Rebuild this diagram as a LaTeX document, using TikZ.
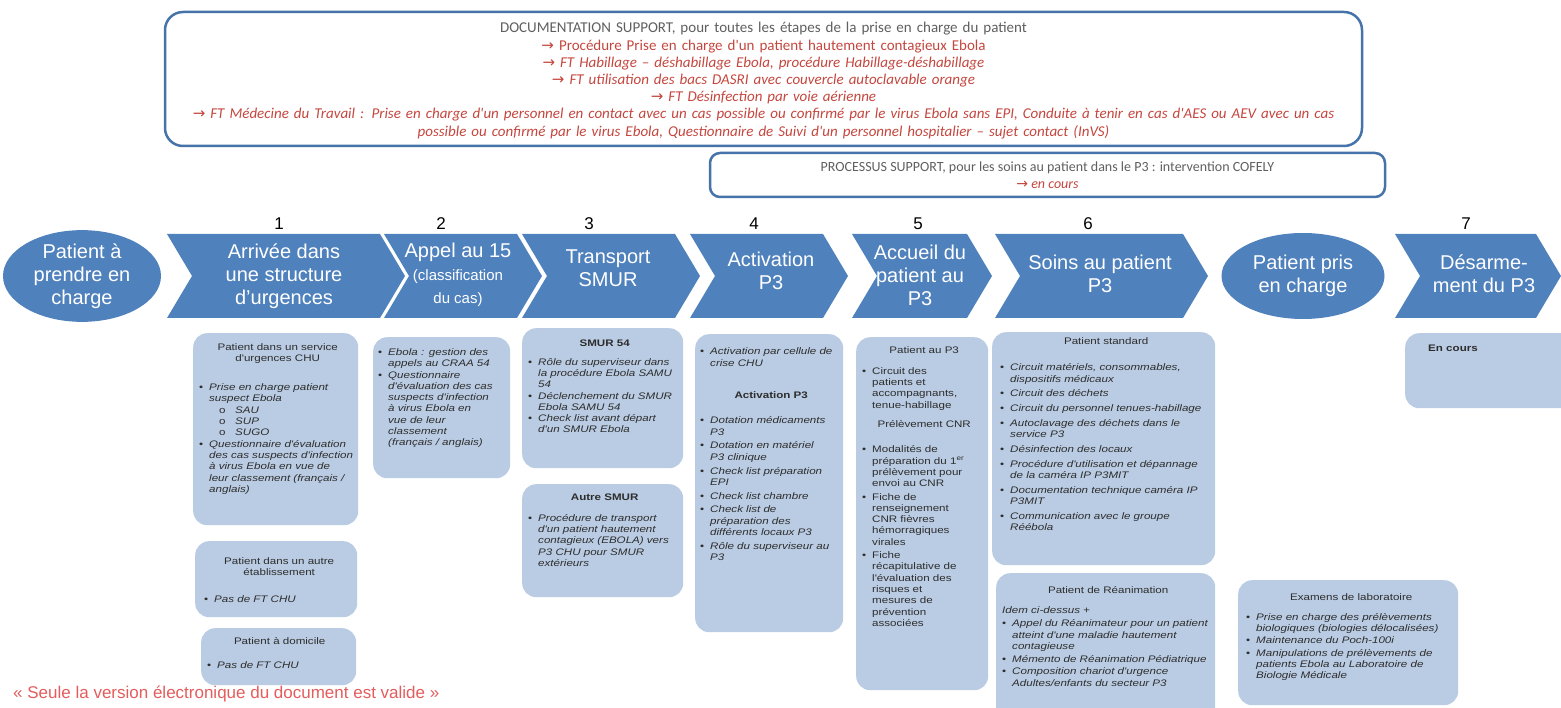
\documentclass[tikz,border=0pt]{standalone}
\usepackage{fontspec}
\setmainfont{Liberation Sans}
\newfontfamily\calib{Carlito}
\newfontfamily\boxf[FakeStretch=1.22]{Liberation Sans}
\newfontfamily\symf{DejaVu Sans}
\usetikzlibrary{shapes.geometric}
\definecolor{docblue}{RGB}{70,115,170}
\definecolor{chevblue}{RGB}{79,129,189}
\definecolor{boxfill}{RGB}{186,204,227}
\definecolor{greytxt}{RGB}{95,95,95}
\definecolor{redtxt}{RGB}{196,70,62}
\definecolor{itemgrey}{RGB}{45,45,45}
\definecolor{footred}{RGB}{228,92,92}
\newcommand{\arr}{{\symf →}\ }
\newcommand{\ttl}[2][5pt]{{\centering\upshape #2\par}\vspace{#1}}
\newcommand{\itm}[1]{\par\hangindent=10pt\hangafter=1\noindent\hbox to 10pt{\upshape\textbullet\hfil}#1\par}
\newcommand{\sub}[1]{\par\noindent\hspace*{20pt}\hbox to 16pt{\upshape o\hfil}#1\par}
\newcommand{\chevron}[2]{\fill[chevblue] (#1,234) -- (#2-25,234) -- (#2,276) -- (#2-25,318) -- (#1,318) -- (#1+25,276) -- cycle;}
\begin{document}
\begin{tikzpicture}[x=1pt, y=-1pt,
  chevtxt/.style={text=white, font=\fontsize{20}{23}\selectfont, align=center, inner sep=0pt},
  oval/.style={ellipse, fill=chevblue, text=white, font=\fontsize{20}{23}\selectfont, align=center, inner sep=0pt, minimum width=158, minimum height=86},
  num/.style={font=\fontsize{17}{17}\selectfont, inner sep=0pt},
  bg/.style={fill=boxfill, rounded corners=14, anchor=north west, inner sep=0pt},
  itxt/.style={font=\boxf\fontsize{9.5}{11.3}\selectfont\itshape, text=itemgrey, align=left, anchor=north west, inner sep=0pt},
  supbox/.style={draw=docblue, line width=2.5pt, rounded corners=18, inner sep=0pt, align=center, font=\calib\fontsize{15}{17.2}\selectfont, text=greytxt}]
\useasboundingbox (0,0) rectangle (1561,708);
\clip (0,0) rectangle (1561,708);
% support documentation
\draw[draw=docblue, line width=2.5pt, rounded corners=18] (165,12) rectangle (1362,146);
\node[supbox, draw=none, text width=1190] (doc) at (763.5,80.5) {DOCUMENTATION SUPPORT, pour toutes les étapes de la prise en charge du patient\\
  \color{redtxt}\arr Procédure Prise en charge d'un patient hautement contagieux Ebola\\
  \itshape\arr FT Habillage – déshabillage Ebola, procédure Habillage-déshabillage\\
  \arr FT utilisation des bacs DASRI avec couvercle autoclavable orange\\
  \arr FT Désinfection par voie aérienne\\
  \arr FT Médecine du Travail : Prise en charge d'un personnel en contact avec un cas possible ou confirmé par le virus Ebola sans EPI, Conduite à tenir en cas d'AES ou AEV avec un cas\\
  possible ou confirmé par le virus Ebola, Questionnaire de Suivi d'un personnel hospitalier – sujet contact (InVS)};
\node[supbox, rounded corners=10, minimum width=675, minimum height=44, font=\calib\fontsize{14}{16.5}\selectfont] (proc) at (1047.5,175) {PROCESSUS SUPPORT, pour les soins au patient dans le P3 : intervention COFELY\\
  {\color{redtxt}\itshape\arr en cours}};
% step numbers
\node[num] (n1) at (279,224) {1};
\node[num] (n2) at (441,224) {2};
\node[num] (n3) at (589,224) {3};
\node[num] (n4) at (754,224) {4};
\node[num] (n5) at (918,224) {5};
\node[num] (n6) at (1088,224) {6};
\node[num] (n7) at (1466,224) {7};
% process chevrons
\chevron{167}{405} \chevron{384}{542} \chevron{522}{700} \chevron{690}{848}
\chevron{852}{992} \chevron{995}{1208} \chevron{1395}{1561}
\node[oval] (e1) at (82,276) {Patient à\\prendre en\\charge};
\node[chevtxt] (c1) at (284,276) {Arrivée dans\\une structure\\d'urgences};
\node[chevtxt] (c2) at (458,275) {Appel au 15\\{\fontsize{15}{18}\selectfont(classification}\\{\fontsize{15}{18}\selectfont du cas)}};
\node[chevtxt] (c3) at (608,268) {Transport\\SMUR};
\node[chevtxt] (c4) at (771,271) {Activation\\P3};
\node[chevtxt] (c5) at (920,275) {Accueil du\\patient au\\P3};
\node[chevtxt] (c6) at (1100,274) {Soins au patient\\P3};
\node[oval, minimum width=163] (e2) at (1303,276) {Patient pris\\en charge};
\node[chevtxt] (c7) at (1484,274) {Désarme-\\ment du P3};
% detail boxes
\node[bg, minimum width=165, minimum height=192] (bA) at (193,333) {};
\node[itxt, text width=157] (tA) at (199,343) {\ttl[18pt]{Patient dans un service\\d'urgences CHU}
  \itm{Prise en charge patient\newline suspect Ebola}\sub{SAU}\sub{SUP}\sub{SUGO}
  \itm{Questionnaire d'évaluation\newline des cas suspects d'infection\newline à virus Ebola en vue de\newline leur classement (français /\newline anglais)}};
\node[bg, minimum width=162, minimum height=76] (bB) at (195,541) {};
\node[itxt, text width=150] (tB) at (204,557) {\ttl[16pt]{Patient dans un autre\\établissement}\itm{Pas de FT CHU}};
\node[bg, minimum width=155, minimum height=57] (bC) at (201,628) {};
\node[itxt, text width=145] (tC) at (207,637) {\ttl[13pt]{Patient à domicile}\itm{Pas de FT CHU}};
\node[bg, minimum width=137, minimum height=141] (bD) at (373,337) {};
\node[itxt, text width=132] (tD) at (378,344) {\itm{Ebola : gestion des\newline appels au CRAA 54}
  \itm{Questionnaire\newline d'évaluation des cas\newline suspects d'infection\newline à virus Ebola en\newline vue de leur\newline classement\newline (français / anglais)}};
\node[bg, minimum width=161, minimum height=140] (bE) at (522,328) {};
\node[itxt, text width=153] (tE) at (528,340) {\ttl[7pt]{\bfseries SMUR 54}
  \itm{Rôle du superviseur dans\newline la procédure Ebola SAMU\newline 54}
  \itm{Déclenchement du SMUR\newline Ebola SAMU 54}
  \itm{Check list avant départ\newline d'un SMUR Ebola}};
\node[bg, minimum width=161, minimum height=113] (bF) at (522,484) {};
\node[itxt, text width=153] (tF) at (528,494) {\ttl[9pt]{\bfseries Autre SMUR}
  \itm{Procédure de transport\newline d'un patient hautement\newline contagieux (EBOLA) vers\newline P3 CHU pour SMUR\newline extérieurs}};
\node[bg, minimum width=148, minimum height=298] (bG) at (695,334) {};
\node[itxt, text width=142] (tG) at (700,341) {\setlength{\parskip}{2.5pt}\itm{Activation par cellule de\newline crise CHU}\vspace{18pt}
  \ttl[12pt]{\bfseries Activation P3}
  \itm{Dotation médicaments\newline P3}
  \itm{Dotation en matériel\newline P3 clinique}
  \itm{Check list préparation\newline EPI}
  \itm{Check list chambre}
  \itm{Check list de\newline préparation des\newline différents locaux P3}
  \itm{Rôle du superviseur au\newline P3}};
\node[bg, minimum width=132, minimum height=353] (bH) at (856,337) {};
\node[itxt, text width=124, font=\boxf\fontsize{9.5}{11.3}\selectfont] (tH) at (862,346) {\setlength{\parskip}{2pt}\ttl[8pt]{Patient au P3}
  \itm{Circuit des\newline patients et\newline accompagnants,\newline tenue-habillage}\vspace{6pt}
  \ttl[12pt]{Prélèvement CNR}
  \itm{Modalités de\newline préparation du 1\textsuperscript{er}\newline prélèvement pour\newline envoi au CNR}
  \itm{Fiche de\newline renseignement\newline CNR fièvres\newline hémorragiques\newline virales}
  \itm{Fiche\newline récapitulative de\newline l'évaluation des\newline risques et\newline mesures de\newline prévention\newline associées}};
\node[bg, minimum width=223, minimum height=233] (bI) at (992,332) {};
\node[itxt, text width=212] (tI) at (1000,337) {\setlength{\parskip}{3.5pt}\ttl[12pt]{Patient standard}
  \itm{Circuit matériels, consommables,\newline dispositifs médicaux}
  \itm{Circuit des déchets}
  \itm{Circuit du personnel tenues-habillage}
  \itm{Autoclavage des déchets dans le\newline service P3}
  \itm{Désinfection des locaux}
  \itm{Procédure d'utilisation et dépannage\newline de la caméra IP P3MIT}
  \itm{Documentation technique caméra IP\newline P3MIT}
  \itm{Communication avec le groupe\newline Réébola}};
\node[bg, minimum width=219, minimum height=150] (bJ) at (996,573) {};
\node[itxt, text width=212] (tJ) at (1002,586) {\setlength{\parskip}{1.5pt}\ttl[8pt]{Patient de Réanimation}
  \noindent Idem ci-dessus +\par
  \itm{Appel du Réanimateur pour un patient\newline atteint d'une maladie hautement\newline contagieuse}
  \itm{Mémento de Réanimation Pédiatrique}
  \itm{Composition chariot d'urgence\newline Adultes/enfants du secteur P3}};
\node[bg, minimum width=220, minimum height=125] (bK) at (1238,580) {};
\node[itxt, text width=210] (tK) at (1246,593) {\setlength{\parskip}{1pt}\ttl[8pt]{Examens de laboratoire}
  \itm{Prise en charge des prélèvements\newline biologiques (biologies délocalisées)}
  \itm{Maintenance du Poch-100i}
  \itm{Manipulations de prélèvements de\newline patients Ebola au Laboratoire de\newline Biologie Médicale}};
\node[bg, minimum width=175, minimum height=75] (bL) at (1405,333) {};
\node[itxt, font=\boxf\fontsize{9.5}{11.3}\selectfont\bfseries] (tL) at (1428,345) {En cours};
% footer
\node[font=\fontsize{17}{19}\selectfont, text=footred, anchor=west, inner sep=0pt] (foot) at (13,694) {« Seule la version électronique du document est valide »};
\end{tikzpicture}
\end{document}
